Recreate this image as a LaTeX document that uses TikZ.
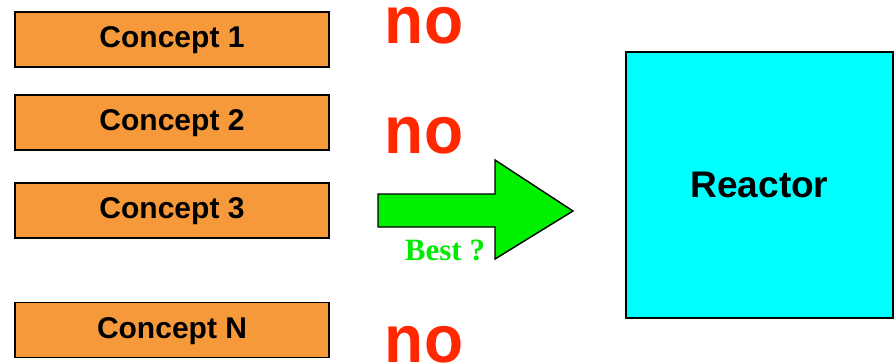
\documentclass[tikz,border=0pt]{standalone}
\usepackage{fontspec}
\setmainfont{Liberation Sans}
\newfontfamily\serifbf{Liberation Serif}
\definecolor{conceptorange}{RGB}{245,153,58}
\definecolor{reactorcyan}{RGB}{0,255,255}
\definecolor{arrowgreen}{RGB}{0,240,0}
\definecolor{bestgreen}{RGB}{0,235,0}
\definecolor{nored}{RGB}{255,40,0}
\begin{document}
\begin{tikzpicture}[x=1pt,y=-1pt,
  conceptbox/.style={draw=black,line width=1.4pt,fill=conceptorange,minimum width=314pt,minimum height=55pt,inner sep=0pt,font=\fontsize{30}{32}\selectfont\bfseries,text height=22pt,text depth=6pt},
  notext/.style={text=nored,font=\fontsize{64}{66}\selectfont\bfseries,inner sep=0pt,anchor=base,text height=35pt,text depth=0pt},
  reactorbox/.style={draw=black,line width=1.4pt,fill=reactorcyan,minimum width=267pt,minimum height=266pt,inner sep=0pt,font=\fontsize{37}{40}\selectfont\bfseries},
  bigarrow/.style={draw=black,line width=1.4pt,fill=arrowgreen,line join=miter}
]
\useasboundingbox (0,0) rectangle (894,364);
\node[conceptbox] (c1) at (172,39.5) {Concept 1};
\node[conceptbox] (c2) at (172,122.5) {Concept 2};
\node[conceptbox] (c3) at (172,210.5) {Concept 3};
\node[conceptbox] (cn) at (172,330) {Concept N};
\node[notext] (no1) at (424,43) {\scalebox{1}[1.05]{no}};
\node[notext] (no2) at (424,153) {\scalebox{1}[1.05]{no}};
\node[notext] (no3) at (424,362.5) {\scalebox{1}[1.05]{no}};
\node[reactorbox] (reactor) at (759.5,185) {Reactor};
\draw[bigarrow] (378,194) -- (495,194) -- (495,160) -- (573,211) -- (495,259) -- (495,227) -- (378,227) -- cycle;
\node[text=bestgreen,font=\serifbf\fontsize{31}{33}\selectfont\bfseries,inner sep=0pt,anchor=base] (best) at (445,260) {Best ?};
\end{tikzpicture}
\end{document}
